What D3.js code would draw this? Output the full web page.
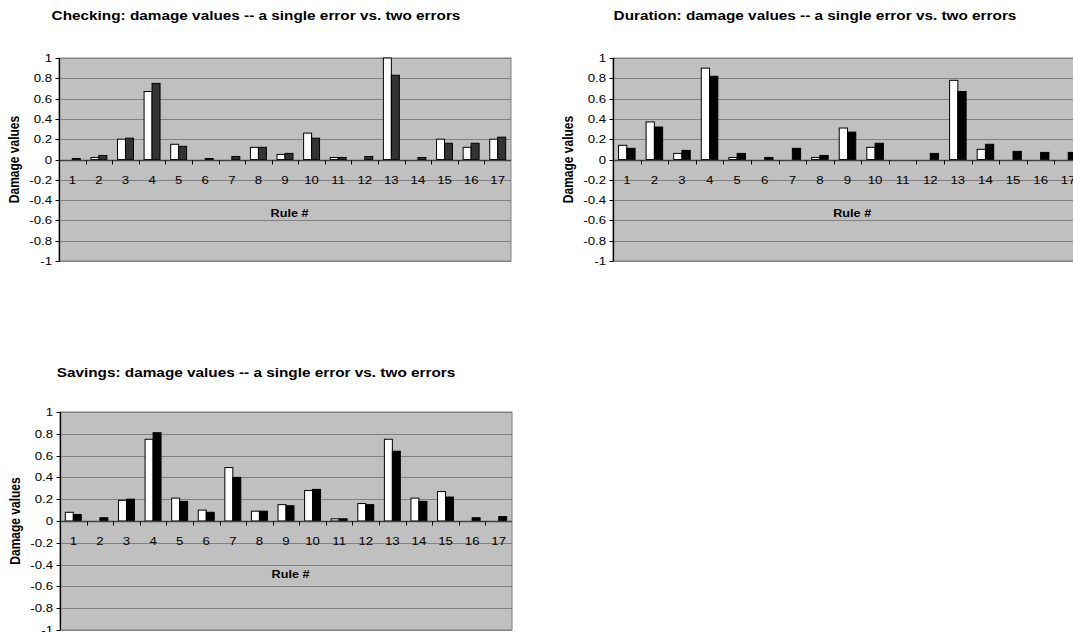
<!DOCTYPE html>
<html><head><meta charset="utf-8">
<script src="https://cdn.jsdelivr.net/npm/d3@7"></script>
<style>body{margin:0;background:#fff}svg{display:block}</style>
</head><body><svg id="c" width="1073" height="632"></svg>
<script>
const rules = ["1","2","3","4","5","6","7","8","9","10","11","12","13","14","15","16","17"];
const yTickValues = [-1,-0.8,-0.6,-0.4,-0.2,0,0.2,0.4,0.6,0.8,1];
const yTickLabels = ["-1","-0.8","-0.6","-0.4","-0.2","0","0.2","0.4","0.6","0.8","1"];

const checkingSingle = [0,0.02,0.20,0.67,0.15,0,0,0.12,0.05,0.26,0.02,0,1.00,0,0.20,0.12,0.20];
const checkingTwo    = [0.01,0.04,0.21,0.75,0.13,0.01,0.03,0.12,0.06,0.21,0.02,0.03,0.83,0.02,0.16,0.16,0.22];
const durationSingle = [0.14,0.37,0.06,0.90,0.02,0,0,0.02,0.31,0.12,0,0,0.78,0.10,0,0,0];
const durationTwo    = [0.11,0.32,0.09,0.82,0.06,0.02,0.11,0.04,0.27,0.16,0,0.06,0.67,0.15,0.08,0.07,0.07];
const savingsSingle  = [0.08,0,0.19,0.75,0.21,0.10,0.49,0.09,0.15,0.28,0.02,0.16,0.75,0.21,0.27,0,0];
const savingsTwo     = [0.06,0.03,0.20,0.81,0.18,0.08,0.40,0.09,0.14,0.29,0.02,0.15,0.64,0.18,0.22,0.03,0.04];

const titles = [
  "Checking: damage values -- a single error vs. two errors",
  "Duration: damage values -- a single error vs. two errors",
  "Savings: damage values -- a single error vs. two errors"
];

const charts = [
  {title:titles[0], single:checkingSingle, two:checkingTwo, dark:"#333333", left:59, top:58, width:452, height:203, titleY:20, titleX:256},
  {title:titles[1], single:durationSingle, two:durationTwo, dark:"#000000", left:613, top:58, width:469, height:203, titleY:20, titleX:815},
  {title:titles[2], single:savingsSingle, two:savingsTwo, dark:"#000000", left:60, top:412, width:452, height:218, titleY:377, titleX:256}
];

const SX = 1.15;
const FONT = "'Liberation Sans', Arial, sans-serif";
const svg = d3.select("#c");

function txt(g, x, y, s, size, weight, anchor, sx){
  return g.append("text")
    .attr("transform", `translate(${x},${y}) scale(${sx||SX},1)`)
    .attr("font-family", FONT).attr("font-size", size).attr("font-weight", weight||"normal")
    .attr("text-anchor", anchor||"middle").attr("fill", "#000").text(s);
}

charts.forEach(c => {
  const g = svg.append("g");
  const x = d3.scaleBand().domain(rules).range([c.left, c.left + c.width]).paddingInner(0.4).paddingOuter(0.2);
  const xs = d3.scaleBand().domain(["single","two"]).range([0, x.bandwidth()]);
  const y = d3.scaleLinear().domain([-1, 1]).range([c.top + c.height, c.top]);
  const step = x.step();
  const x0 = c.left;

  g.append("rect").attr("x", c.left).attr("y", c.top).attr("width", c.width).attr("height", c.height)
    .attr("fill", "#c0c0c0").attr("stroke", "#808080").attr("stroke-width", 1);

  g.selectAll("line.grid").data(yTickValues.filter(v => v !== 0)).enter().append("line")
    .attr("x1", c.left).attr("x2", c.left + c.width)
    .attr("y1", d => Math.round(y(d)) + 0.5).attr("y2", d => Math.round(y(d)) + 0.5)
    .attr("stroke", "#808080").attr("stroke-width", 1);

  const rows = rules.map((r, i) => ({r, single: c.single[i], two: c.two[i]}));
  const grp = g.selectAll("g.cat").data(rows).enter().append("g").attr("transform", d => `translate(${x(d.r)},0)`);
  grp.append("rect").attr("x", xs("single")).attr("width", xs.bandwidth())
    .attr("y", d => y(d.single)).attr("height", d => y(0) - y(d.single))
    .attr("fill", "#ffffff").attr("stroke", "#000").attr("stroke-width", 1);
  grp.append("rect").attr("x", xs("two")).attr("width", xs.bandwidth())
    .attr("y", d => y(d.two)).attr("height", d => y(0) - y(d.two))
    .attr("fill", c.dark).attr("stroke", "#000").attr("stroke-width", 1);

  const zy = Math.round(y(0)) + 0.5;
  g.append("line").attr("x1", c.left).attr("x2", c.left + c.width).attr("y1", zy).attr("y2", zy)
    .attr("stroke", "#404040").attr("stroke-width", 1.3);
  g.selectAll("line.xt").data(d3.range(1, rules.length)).enter().append("line")
    .attr("x1", d => Math.round(x0 + d * step) + 0.5).attr("x2", d => Math.round(x0 + d * step) + 0.5)
    .attr("y1", zy).attr("y2", zy + 4).attr("stroke", "#000").attr("stroke-width", 1);

  rules.forEach(r => txt(g, x(r) + x.bandwidth() / 2, y(0) + 24, r, 11.5));

  const ax = Math.round(c.left) + 0.5;
  g.append("line").attr("x1", ax).attr("x2", ax).attr("y1", c.top).attr("y2", c.top + c.height)
    .attr("stroke", "#000").attr("stroke-width", 1.3);
  g.selectAll("line.yt").data(yTickValues).enter().append("line")
    .attr("x1", ax - 4).attr("x2", ax)
    .attr("y1", d => Math.round(y(d)) + 0.5).attr("y2", d => Math.round(y(d)) + 0.5)
    .attr("stroke", "#000").attr("stroke-width", 1);
  yTickValues.forEach((v, i) => txt(g, c.left - 7, y(v) + 4, yTickLabels[i], 11.5, "normal", "end"));

  txt(g, c.left + c.width * 0.51, y(0) + 57, "Rule #", 11, "bold");
  g.append("text")
    .attr("transform", `translate(${c.left - 40},${y(0)}) rotate(-90) scale(1,${SX})`)
    .attr("font-family", FONT).attr("font-size", 12).attr("font-weight", "bold")
    .attr("text-anchor", "middle").text("Damage values");

  txt(g, c.titleX, c.titleY, c.title, 13, "bold", "middle", 1.18);
});
</script></body></html>
